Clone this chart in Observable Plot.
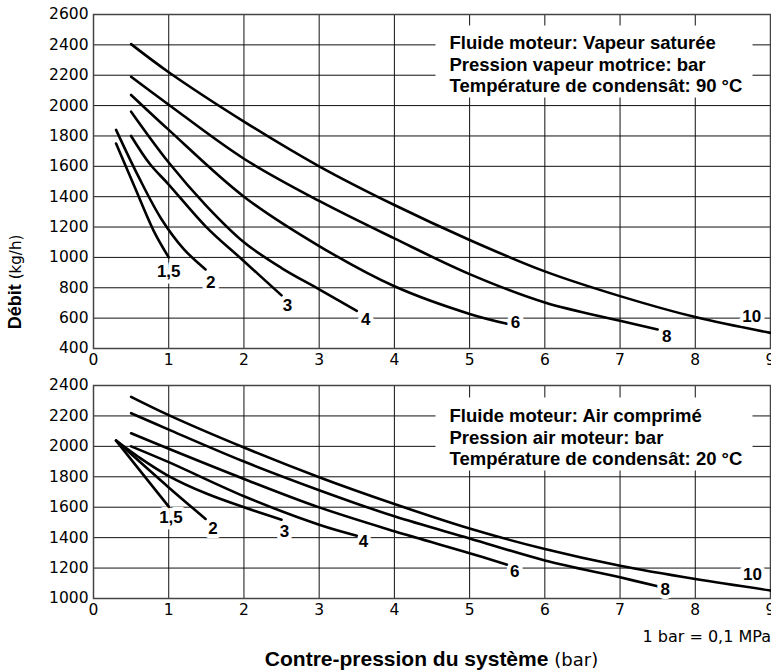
<!DOCTYPE html>
<html><head><meta charset="utf-8">
<script src="https://cdn.jsdelivr.net/npm/d3@7"></script>
<script src="https://cdn.jsdelivr.net/npm/@observablehq/plot@0.6"></script>
<style>
html,body{margin:0;padding:0;background:#fff;}
#root{position:relative;width:771px;height:672px;overflow:hidden;font-family:"Liberation Sans",Arial,sans-serif;color:#000;background:#fff;}
#top,#bottom{position:absolute;left:0;}
#top{top:0;} #bottom{top:370px;}
#ylab{position:absolute;left:15px;top:282px;transform:translate(-50%,-50%) rotate(-90deg);white-space:nowrap;font-size:18px;line-height:1;}
#ylab span{font-family:"DejaVu Sans",sans-serif;font-size:15px;}
#note{position:absolute;right:0;top:629px;font-size:16px;white-space:nowrap;font-family:"DejaVu Sans",sans-serif;line-height:1;}
#xlab{position:absolute;left:93px;width:677px;text-align:center;top:648px;font-size:21px;white-space:nowrap;line-height:1;}
#xlab span{font-family:"DejaVu Sans",sans-serif;font-size:18px;}
</style></head><body>
<div id="root">
  <div id="top"></div>
  <div id="bottom"></div>
  <div id="ylab"><b>Débit</b> <span>(kg/h)</span></div>
  <div id="note">1 bar = 0,1 MPa</div>
  <div id="xlab"><b>Contre-pression du système</b> <span>(bar)</span></div>
</div>
<script>
// ---- axis ticks ----
const xTicks = [0,1,2,3,4,5,6,7,8,9];
const yTicksTop = [400,600,800,1000,1200,1400,1600,1800,2000,2200,2400,2600];
const yTicksBottom = [1000,1200,1400,1600,1800,2000,2200,2400];
const seriesNames = ["1,5","2","3","4","6","8","10"];

// ---- top panel: vapeur saturée ----
const vap15X = [0.3,0.55,0.8,1.0];
const vap15Y = [1750,1460,1175,1000];
const vap2X = [0.3,0.6,0.9,1.2,1.49];
const vap2Y = [1840,1530,1255,1055,921];
const vap3X = [0.5,0.75,1,1.5,2,2.5];
const vap3Y = [1800,1615,1480,1200,975,750];
const vap4X = [0.5,1,1.5,2,2.5,3,3.5];
const vap4Y = [1960,1625,1340,1100,930,790,648];
const vap6X = [0.5,1,2,3,4,5,5.5];
const vap6Y = [2070,1840,1400,1075,810,628,563];
const vap8X = [0.5,1,2,3,4,5,6,7,7.5];
const vap8Y = [2190,2006,1650,1372,1125,890,703,583,525];
const vap10X = [0.5,1,2,3,4,5,6,7,8,9];
const vap10Y = [2405,2220,1895,1600,1345,1115,908,745,607,503];
const vapLabelX = [1.0,1.56,2.58,3.62,5.61,7.62,8.75];
const vapLabelY = [910,833,686,591,569,481,613];
const vapNote = "Fluide moteur: Vapeur saturée\nPression vapeur motrice: bar\nTempérature de condensât: 90 °C";

// ---- bottom panel: air comprimé ----
const air15X = [0.3,1.0];
const air15Y = [2038,1604];
const air2X = [0.3,1.0,1.49];
const air2Y = [2038,1730,1523];
const air3X = [0.3,0.6,1,1.5,2,2.5];
const air3Y = [2038,1930,1805,1690,1600,1518];
const air4X = [0.5,1,2,3,3.5];
const air4Y = [2000,1896,1672,1485,1413];
const air6X = [0.5,1,2,3,4,5,5.5];
const air6Y = [2086,1984,1786,1599,1442,1298,1222];
const air8X = [0.5,1,2,3,4,5,6,7,7.5];
const air8Y = [2218,2110,1900,1712,1540,1395,1250,1139,1080];
const air10X = [0.5,1,2,3,4,5,6,7,8,9];
const air10Y = [2325,2205,1992,1797,1621,1460,1325,1215,1128,1053];
const airLabelX = [1.03,1.59,2.54,3.59,5.6,7.6,8.76];
const airLabelY = [1534,1457,1440,1376,1178,1056,1155];
const airNote = "Fluide moteur: Air comprimé\nPression air moteur: bar\nTempérature de condensât: 20 °C";

function rows(name, xs, ys) { return xs.map((x, i) => ({series: name, x, y: ys[i]})); }

const vapData = [].concat(
  rows("1,5", vap15X, vap15Y), rows("2", vap2X, vap2Y), rows("3", vap3X, vap3Y),
  rows("4", vap4X, vap4Y), rows("6", vap6X, vap6Y), rows("8", vap8X, vap8Y), rows("10", vap10X, vap10Y));
const airData = [].concat(
  rows("1,5", air15X, air15Y), rows("2", air2X, air2Y), rows("3", air3X, air3Y),
  rows("4", air4X, air4Y), rows("6", air6X, air6Y), rows("8", air8X, air8Y), rows("10", air10X, air10Y));

const FONT = '"Liberation Sans", Arial, sans-serif';
const TICKFONT = '"DejaVu Sans", sans-serif';

function panel({data, yDomain, yTicks, labelX, labelY, note, height, marginTop, box, noteDy}) {
  return Plot.plot({
    width: 771, height, marginLeft: 93, marginRight: 1, marginTop, marginBottom: 22,
    style: {fontFamily: TICKFONT, fontSize: "15.5px", color: "#000", background: "transparent", overflow: "visible"},
    x: {domain: [0, 9], ticks: xTicks, tickSize: 0, tickPadding: 5, label: null, tickFormat: d => String(d)},
    y: {domain: yDomain, ticks: yTicks, tickSize: 0, tickPadding: 5, label: null, tickFormat: d => String(d)},
    marks: [
      Plot.ruleX(xTicks, {stroke: "#111", strokeWidth: 1}),
      Plot.ruleY(yTicks, {stroke: "#111", strokeWidth: 1}),
      Plot.frame({fill: "white", stroke: "none", ...box}),
      Plot.frame({stroke: "#444", strokeWidth: 1.5}),
      Plot.line(data, {x: "x", y: "y", z: "series", stroke: "#000", strokeWidth: 2.6, curve: "catmull-rom"}),
      Plot.text(seriesNames, {x: (d, i) => labelX[i], y: (d, i) => labelY[i], text: d => d,
        fontFamily: FONT, fontWeight: "bold", fontSize: 17, fill: "#000", stroke: "white", strokeWidth: 8, paintOrder: "stroke"}),
      Plot.text([note], {frameAnchor: "top-left", textAnchor: "start", lineAnchor: "top", dx: 356, dy: noteDy,
        text: d => d, fontFamily: FONT, fontSize: 18.5, fontWeight: "bold", lineHeight: 1.17, fill: "#000"})
    ]
  });
}

document.getElementById("top").append(panel({
  data: vapData, yDomain: [400, 2600], yTicks: yTicksTop, labelX: vapLabelX, labelY: vapLabelY,
  note: vapNote, height: 370, marginTop: 14, noteDy: 19,
  box: {insetLeft: 342, insetRight: 18, insetTop: 11, insetBottom: 251}
}));
document.getElementById("bottom").append(panel({
  data: airData, yDomain: [1000, 2400], yTicks: yTicksBottom, labelX: airLabelX, labelY: airLabelY,
  note: airNote, height: 250, marginTop: 15, noteDy: 21,
  box: {insetLeft: 342, insetRight: 18, insetTop: 12, insetBottom: 128}
}));
</script>
</body></html>
